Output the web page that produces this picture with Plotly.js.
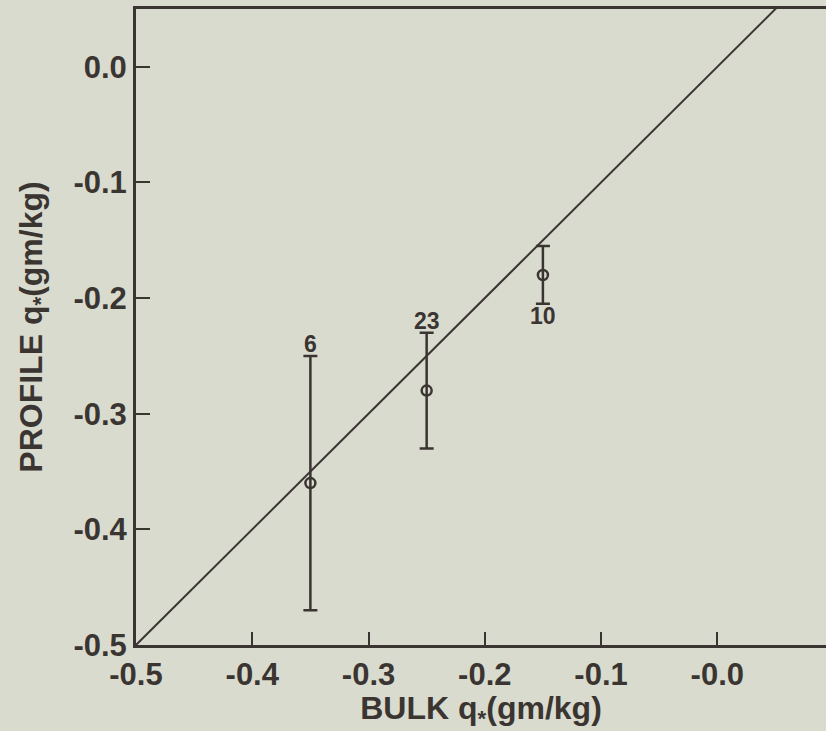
<!DOCTYPE html>
<html>
<head>
<meta charset="utf-8">
<script src="https://cdn.plot.ly/plotly-3.0.1.min.js"></script>
<style>html,body{margin:0;padding:0;background:#d9dbcf;}</style>
</head>
<body>
<div id="chart" style="width:826px;height:731px;"></div>
<script>
// Data
const bulkQ = [-0.35, -0.25, -0.15];
const profileQ = [-0.36, -0.28, -0.18];
const errPlus = [0.11, 0.05, 0.025];
const errMinus = [0.11, 0.05, 0.025];
const counts = ['6', '23', '10'];
const labelAbove = [true, true, false];
const lineX = [-0.5, 0.1];
const lineY = [-0.5, 0.1];
const xTicks = [-0.5, -0.4, -0.3, -0.2, -0.1, 0.0];
const xTickText = ['-0.5', '-0.4', '-0.3', '-0.2', '-0.1', '-0.0'];
const yTicks = [-0.5, -0.4, -0.3, -0.2, -0.1, 0.0];
const yTickText = ['-0.5', '-0.4', '-0.3', '-0.2', '-0.1', '0.0'];

const ink = '#3b3532';
const bg = '#d9dbcf';
const fontFam = 'Liberation Sans, Arial, sans-serif';

const traces = [
  {
    x: lineX, y: lineY, mode: 'lines', type: 'scatter',
    line: {color: ink, width: 2}, hoverinfo: 'skip', showlegend: false
  },
  {
    x: bulkQ, y: profileQ, mode: 'markers', type: 'scatter',
    marker: {symbol: 'circle-open', size: 10, color: ink, line: {width: 2.5, color: ink}},
    error_y: {type: 'data', symmetric: false, array: errPlus, arrayminus: errMinus,
              color: ink, thickness: 2.5, width: 7},
    showlegend: false
  }
];

const annotations = bulkQ.map((x, i) => ({
  x: x,
  y: labelAbove[i] ? profileQ[i] + errPlus[i] : profileQ[i] - errMinus[i],
  xref: 'x', yref: 'y',
  text: '<b>' + counts[i] + '</b>',
  showarrow: false,
  yanchor: labelAbove[i] ? 'bottom' : 'top',
  yshift: labelAbove[i] ? -3 : 3,
  font: {family: fontFam, size: 23, color: ink}
}));

const layout = {
  width: 826, height: 731,
  paper_bgcolor: bg, plot_bgcolor: bg,
  margin: {l: 136, r: 0, t: 9, b: 86},
  showlegend: false,
  font: {family: fontFam, color: ink},
  xaxis: {
    range: [-0.5, 0.0935],
    tickvals: xTicks, ticktext: xTickText.map(t => '<b>' + t + '</b>'),
    ticks: 'inside', ticklen: 13, tickwidth: 2, tickcolor: ink,
    showline: true, linecolor: ink, linewidth: 3, mirror: true,
    showgrid: false, zeroline: false,
    tickfont: {family: fontFam, size: 31, color: ink},
    title: {text: '<b>BULK q<sub>*</sub>(gm/kg)</b>', font: {family: fontFam, size: 32, color: ink}, standoff: 2}
  },
  yaxis: {
    range: [-0.5, 0.05],
    tickvals: yTicks, ticktext: yTickText.map(t => '<b>' + t + '</b>'),
    ticks: 'inside', ticklen: 14, tickwidth: 2, tickcolor: ink,
    showline: true, linecolor: ink, linewidth: 3, mirror: false,
    showgrid: false, zeroline: false,
    tickfont: {family: fontFam, size: 31, color: ink},
    title: {text: '<b>PROFILE q<sub>*</sub>(gm/kg)</b>', font: {family: fontFam, size: 32, color: ink}, standoff: 22}
  },
  annotations: annotations
};

Plotly.newPlot('chart', traces, layout, {displayModeBar: false, staticPlot: true});
</script>
</body>
</html>
